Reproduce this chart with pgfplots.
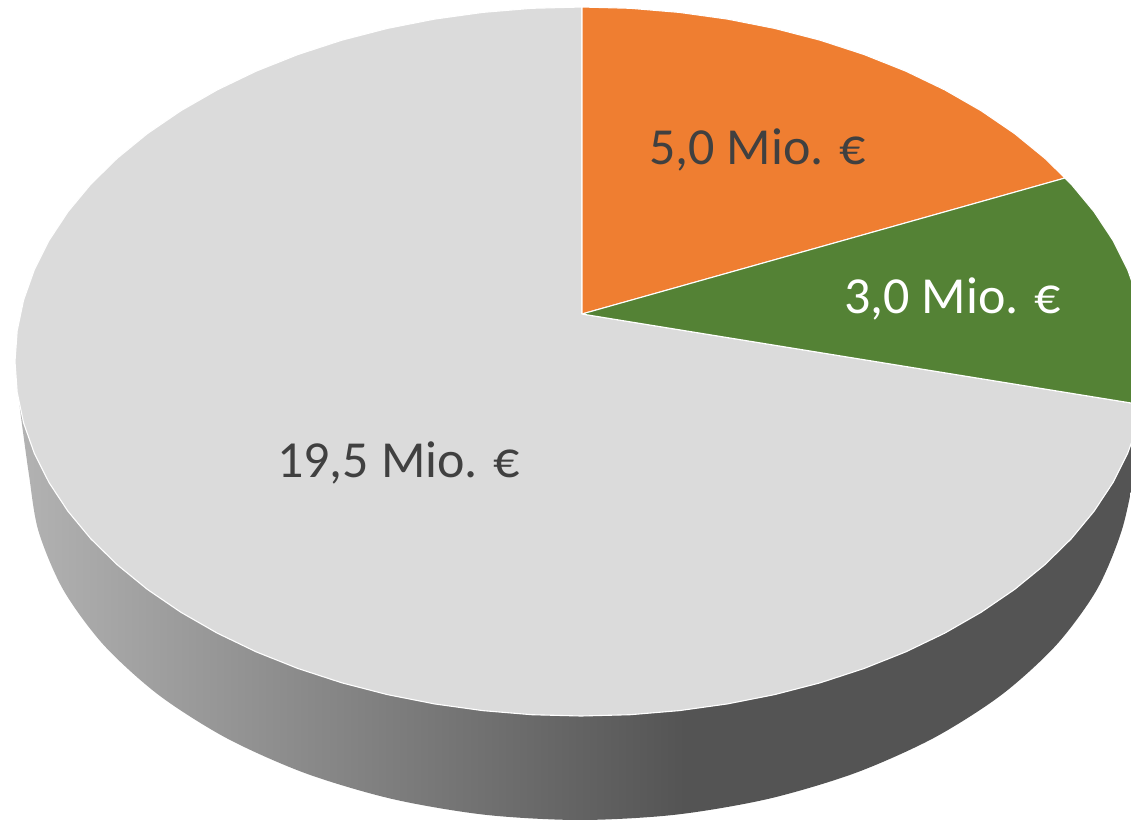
\documentclass[border=0pt]{standalone}
\usepackage{pgfplots}
\pgfplotsset{compat=1.18}
\usepackage{fontspec}
\setmainfont{Carlito}
\definecolor{pieorange}{HTML}{EF7E31}
\definecolor{piegreen}{HTML}{548235}
\definecolor{piegrey}{HTML}{DBDBDB}
\definecolor{pietext}{HTML}{404040}
\pgfdeclarehorizontalshading{sidegrad}{100bp}{rgb(0bp)=(0.70,0.70,0.70); rgb(25bp)=(0.70,0.70,0.70); rgb(52.8bp)=(0.33,0.33,0.33); rgb(100bp)=(0.33,0.33,0.33)}
\begin{document}
\begin{tikzpicture}
\path[use as bounding box] (0,0) rectangle (1131pt,819pt);
\begin{axis}[
  at={(0,0)}, anchor=south west,
  scale only axis, width=1131pt, height=819pt,
  xmin=0, xmax=1131, ymin=0, ymax=819, y dir=reverse,
  hide axis, clip=true]
% side of the pie
\addplot[draw=none, shade, shading=sidegrad, no markers, smooth] coordinates {
 (19,400) (21,417) (29,475) (38.4,530.8) (63.2,589.7) (103.7,645) (158.7,695) (226.5,738.1)
 (305,773.1) (391.9,798.9) (484.5,814.7) (580,820) (675.5,814.7) (768.1,798.9) (855,773.1)
 (933.5,738.1) (1001.3,695) (1056.3,645) (1096.8,589.7) (1121.6,530.8) (1135,470) (1138,440)
 (581,361) (19,400)};
% 19,5 Mio.
\addplot[fill=piegrey, draw=white, line width=1.1pt, no markers] coordinates {
 (582,314) (1143.5,405) (1138.4,423) (1127.7,453.2) (1112.9,482.7) (1094,511.3) (1071.2,538.8)
 (1044.7,564.8) (1014.6,589.4) (981.2,612.2) (944.8,633.1) (905.7,651.9) (864,668.5) (820.2,682.8)
 (774.6,694.6) (727.5,703.9) (679.3,710.6) (630.3,714.7) (581,716) (531.7,714.7) (482.7,710.6)
 (434.5,703.9) (387.4,694.6) (341.8,682.8) (298,668.5) (256.3,651.9) (217.2,633.1) (180.8,612.2)
 (147.4,589.4) (117.3,564.8) (90.8,538.8) (68,511.3) (49.1,482.7) (34.3,453.2) (23.6,423)
 (17.2,392.4) (15,361.5) (17.2,330.6) (23.6,300) (34.3,269.8) (49.1,240.3) (68,211.7) (90.8,184.2)
 (117.3,158.2) (147.4,133.6) (180.8,110.8) (217.2,89.9) (256.3,71.1) (298,54.5) (341.8,40.2)
 (387.4,28.4) (434.5,19.1) (482.7,12.4) (531.7,8.3) (582,7) (582,314)};
% 5,0 Mio.
\addplot[fill=pieorange, draw=white, line width=1.1pt, no markers] coordinates {
 (582,314) (582,7) (630.3,8.3) (679.3,12.4) (727.5,19.1) (774.6,28.4) (820.2,40.2) (864,54.5)
 (905.7,71.1) (944.8,89.9) (981.2,110.8) (1014.6,133.6) (1044.7,158.2) (1065,178) (582,314)};
% 3,0 Mio.
\addplot[fill=piegreen, draw=white, line width=1.1pt, no markers] coordinates {
 (582,314) (1065,178) (1071.2,184.2) (1094,211.7) (1112.9,240.3) (1127.7,269.8) (1138.4,300)
 (1144.8,330.6) (1147,361.5) (1143.5,405) (582,314)};
\node[anchor=base west, inner sep=0pt, text=pietext, font=\fontsize{52}{60}\selectfont] at (axis cs:649,164) {5,0 Mio. €};
\node[anchor=base west, inner sep=0pt, text=white, font=\fontsize{52}{60}\selectfont] at (axis cs:844,313) {3,0 Mio. €};
\node[anchor=base west, inner sep=0pt, text=pietext, font=\fontsize{52}{60}\selectfont] at (axis cs:277,477) {19,5 Mio. €};
\end{axis}
\end{tikzpicture}
\end{document}
